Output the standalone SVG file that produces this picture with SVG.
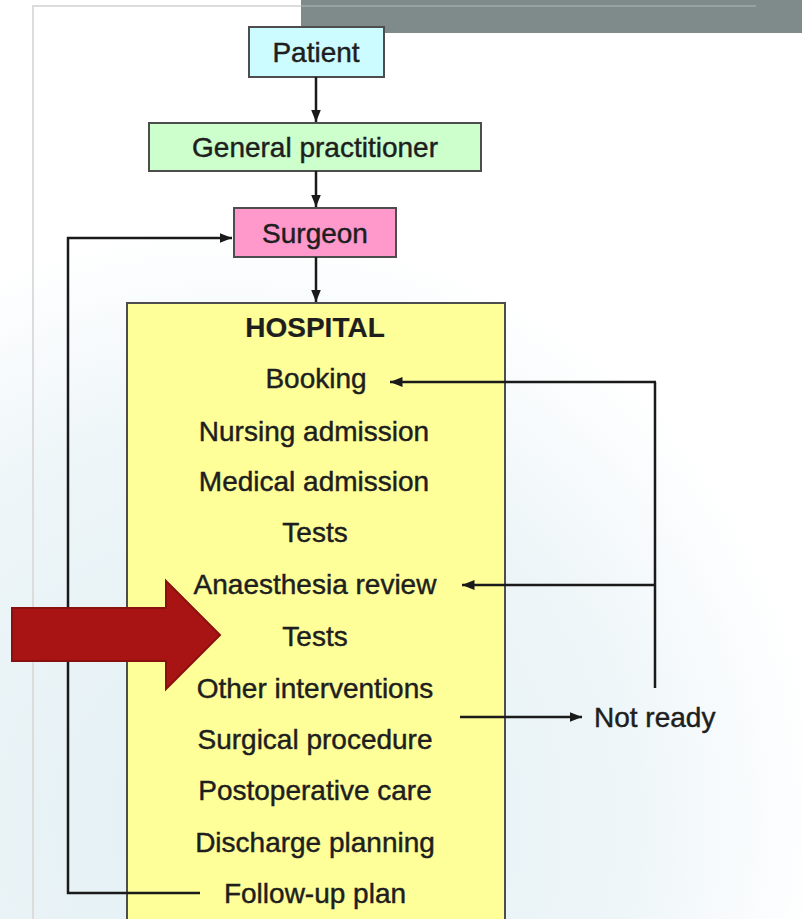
<svg xmlns="http://www.w3.org/2000/svg" width="802" height="919" viewBox="0 0 802 919">
  <defs>
    <radialGradient id="bg" cx="230" cy="820" r="700" gradientUnits="userSpaceOnUse">
      <stop offset="0" stop-color="#e3f0f4"/>
      <stop offset="0.55" stop-color="#edf5f8"/>
      <stop offset="0.85" stop-color="#ffffff"/>
      <stop offset="1" stop-color="#ffffff"/>
    </radialGradient>
    <marker id="ah" viewBox="0 0 10 10" refX="10" refY="5" markerWidth="5" markerHeight="5" orient="auto" markerUnits="strokeWidth">
      <path d="M0,1 L10,5 L0,9 z" fill="#1a1a1a"/>
    </marker>
    <style>
      .box { stroke: #4d4d4d; stroke-width: 2; }
      .t { font-family: "Liberation Sans", Arial, sans-serif; font-size: 28px; fill: #1e1e1e; stroke: #1e1e1e; stroke-width: 0.45; text-anchor: middle; }
      .b { font-weight: bold; stroke-width: 0.2; }
      .c { fill: none; stroke: #1a1a1a; stroke-width: 2.5; }
      .ca { fill: none; stroke: #1a1a1a; stroke-width: 2.5; marker-end: url(#ah); }
    </style>
  </defs>

  <rect x="0" y="0" width="802" height="919" fill="url(#bg)"/>
  <!-- card frame and header bar -->
  <path d="M33,919 L33,6 L301,6" fill="none" stroke="#dcdcdc" stroke-width="2"/>
  <rect x="301" y="0" width="501" height="33" fill="#7f8a8a"/>
  <line x1="301" y1="6" x2="756" y2="6" stroke="#97a1a1" stroke-width="2"/>

  <g id="patient">
    <rect class="box" x="249" y="27" width="135" height="50" fill="#ccfcff"/>
    <text class="t" x="316" y="62">Patient</text>
  </g>
  <g id="gp">
    <rect class="box" x="149" y="123" width="332" height="48" fill="#ccffcc"/>
    <text class="t" x="315" y="157">General practitioner</text>
  </g>
  <g id="surgeon">
    <rect class="box" x="234" y="208" width="162" height="49" fill="#ff99cc"/>
    <text class="t" x="315" y="243">Surgeon</text>
  </g>

  <g id="hospital">
    <rect class="box" x="127" y="303" width="378" height="620" fill="#ffff99"/>
    <text class="t b" x="315" y="337">HOSPITAL</text>
    <text class="t" x="316" y="388">Booking</text>
    <text class="t" x="314" y="441">Nursing admission</text>
    <text class="t" x="314" y="491">Medical admission</text>
    <text class="t" x="315" y="542">Tests</text>
    <text class="t" x="315" y="594">Anaesthesia review</text>
    <text class="t" x="315" y="646">Tests</text>
    <text class="t" x="315" y="698">Other interventions</text>
    <text class="t" x="315" y="749">Surgical procedure</text>
    <text class="t" x="315" y="800">Postoperative care</text>
    <text class="t" x="315" y="852">Discharge planning</text>
    <text class="t" x="315" y="903">Follow-up plan</text>
  </g>

  <g id="not-ready">
    <text class="t" x="594" y="727" style="text-anchor:start">Not ready</text>
  </g>

  <g id="connectors">
    <line class="ca" x1="316" y1="77" x2="316" y2="122"/>
    <line class="ca" x1="316" y1="171" x2="316" y2="207"/>
    <line class="ca" x1="316" y1="257" x2="316" y2="302"/>
    <polyline class="ca" points="200,893 68,893 68,238 232,238"/>
    <polyline class="c" points="655,688 655,382"/>
    <line class="ca" x1="656" y1="382" x2="390" y2="382"/>
    <line class="ca" x1="655" y1="585" x2="462" y2="585"/>
    <line class="ca" x1="460" y1="717" x2="582" y2="717"/>
  </g>

  <g id="red-arrow">
    <polygon points="12,608 166,608 166,581 220,635 166,689 166,661 12,661" fill="#a81414" stroke="#8a1010" stroke-width="2"/>
  </g>
</svg>
